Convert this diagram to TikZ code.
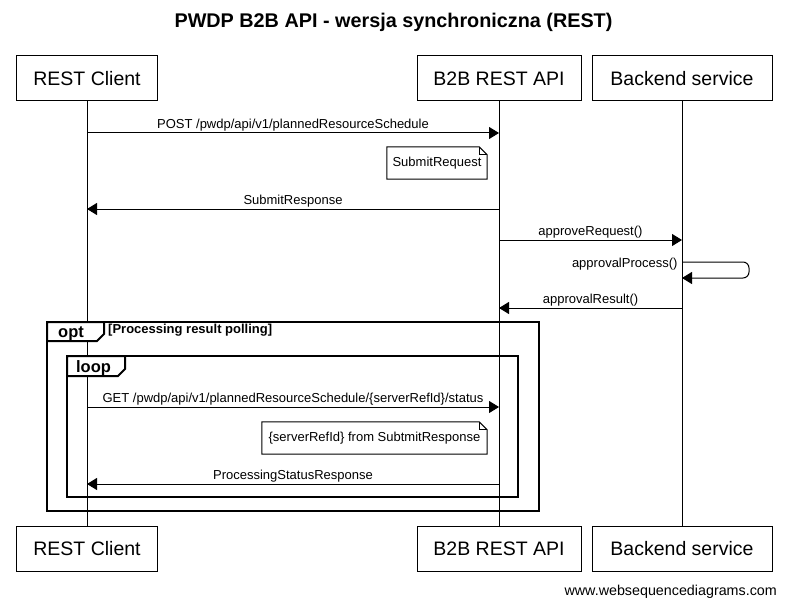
\documentclass[tikz,border=0pt]{standalone}
\usepackage{fontspec}
\setmainfont{Liberation Sans}
\usetikzlibrary{arrows.meta, positioning, calc}

\tikzset{
  actor/.style={draw, line width=1pt, minimum height=45pt, inner sep=0pt,
    font=\fontsize{19.5}{22}\selectfont},
  lifeline/.style={line width=1pt},
  msg/.style={line width=1pt, -{Triangle[length=10pt, width=12pt]}},
  msglabel/.style={above, inner sep=1pt, font=\fontsize{13}{15}\selectfont},
  notetext/.style={minimum height=32pt, inner sep=0pt, font=\fontsize{13}{15}\selectfont},
  notebox/.style={draw, line width=1pt, fill=white},
  frame/.style={draw, line width=2pt},
  tabtext/.style={font=\fontsize{16.5}{18}\selectfont\bfseries, inner sep=0pt},
}

\begin{document}
\begin{tikzpicture}[x=1pt, y=-1pt]

% Canvas
\useasboundingbox[fill=white] (0,0) rectangle (787,607);

% Title
\node[font=\fontsize{19.8}{22}\selectfont\bfseries] (title) at (393.5,22) {PWDP B2B API - wersja synchroniczna (REST)};

% Participants (top and bottom)
\node[actor, minimum width=141pt] (rcTop) at (87,78.5) {REST Client};
\node[actor, minimum width=164pt] (apiTop) at (499,78.5) {B2B REST API};
\node[actor, minimum width=180pt] (beTop) at (682,78.5) {Backend service};
\node[actor, minimum width=141pt] (rcBot) at (87,548.5) {REST Client};
\node[actor, minimum width=164pt] (apiBot) at (499,548.5) {B2B REST API};
\node[actor, minimum width=180pt] (beBot) at (682,548.5) {Backend service};

% Lifelines
\draw[lifeline] (rcTop.south) -- (rcBot.north);
\draw[lifeline] (apiTop.south) -- (apiBot.north);
\draw[lifeline] (beTop.south) -- (beBot.north);

% Message rows
\coordinate (m1) at (0,133);
\coordinate (m2) at (0,209);
\coordinate (m3) at (0,240);
\coordinate (m4) at (0,262);
\coordinate (m5) at (0,308);
\coordinate (m6) at (0,407);
\coordinate (m7) at (0,484);

% POST request
\draw[msg] (rcTop.south |- m1) -- node[msglabel] {POST /pwdp/api/v1/plannedResourceSchedule} (apiTop.south |- m1);

% Note: SubmitRequest
\node[notetext, minimum width=100pt] (note1) at (437,163) {};
\draw[notebox] (note1.north west) -- ($(note1.north east)+(-8,0)$) -- ($(note1.north east)+(0,8)$)
  -- (note1.south east) -- (note1.south west) -- cycle;
\draw[line width=1pt] ($(note1.north east)+(-8,0)$) -- ($(note1.north east)+(-8,8)$) -- ($(note1.north east)+(0,8)$);
\node[notetext] at (note1) {SubmitRequest};

% SubmitResponse
\draw[msg] (apiTop.south |- m2) -- node[msglabel] {SubmitResponse} (rcTop.south |- m2);

% approveRequest
\draw[msg] (apiTop.south |- m3) -- node[msglabel] {approveRequest()} (beTop.south |- m3);

% approvalProcess (self call)
\coordinate (selfout) at ($(beTop.south |- m4)+(67,0)$);
\draw[msg, rounded corners=6pt] (beTop.south |- m4) node[left, inner sep=4pt, yshift=-2pt, font=\fontsize{13}{15}\selectfont] {approvalProcess()}
  -- (selfout) -- ++(0,16) -- ($(beTop.south |- m4)+(0,16)$);

% approvalResult
\draw[msg] (beTop.south |- m5) -- node[msglabel] {approvalResult()} (apiTop.south |- m5);

% opt frame
\draw[frame] (47,322) rectangle (539,511);
\draw[frame, fill=white] (47,322) -- (104,322) -- (104,334) -- (97,341) -- (47,341) -- cycle;
\node[tabtext] (optlabel) at (71,333.5) {opt};
\node[anchor=west, inner sep=0pt, font=\fontsize{13}{15}\selectfont\bfseries] (optcond) at (108,330) {[Processing result polling]};

% loop frame
\draw[frame] (67,356) rectangle (518,497);
\draw[frame, fill=white] (67,356) -- (125,356) -- (125,369) -- (118,376) -- (67,376) -- cycle;
\node[tabtext] (looplabel) at (93.5,368) {loop};

% GET status
\draw[msg] (rcTop.south |- m6) -- node[msglabel] {GET /pwdp/api/v1/plannedResourceSchedule/\{serverRefId\}/status} (apiTop.south |- m6);

% Note: serverRefId
\node[notetext, minimum width=225pt] (note2) at (374.5,438) {};
\draw[notebox] (note2.north west) -- ($(note2.north east)+(-8,0)$) -- ($(note2.north east)+(0,8)$)
  -- (note2.south east) -- (note2.south west) -- cycle;
\draw[line width=1pt] ($(note2.north east)+(-8,0)$) -- ($(note2.north east)+(-8,8)$) -- ($(note2.north east)+(0,8)$);
\node[notetext] at (note2) {\{serverRefId\} from SubtmitResponse};

% ProcessingStatusResponse
\draw[msg] (apiTop.south |- m7) -- node[msglabel] {ProcessingStatusResponse} (rcTop.south |- m7);

% Footer
\node[anchor=east, inner sep=0pt, font=\fontsize{14.3}{16}\selectfont] (footer) at (777,592) {www.websequencediagrams.com};

\end{tikzpicture}
\end{document}
